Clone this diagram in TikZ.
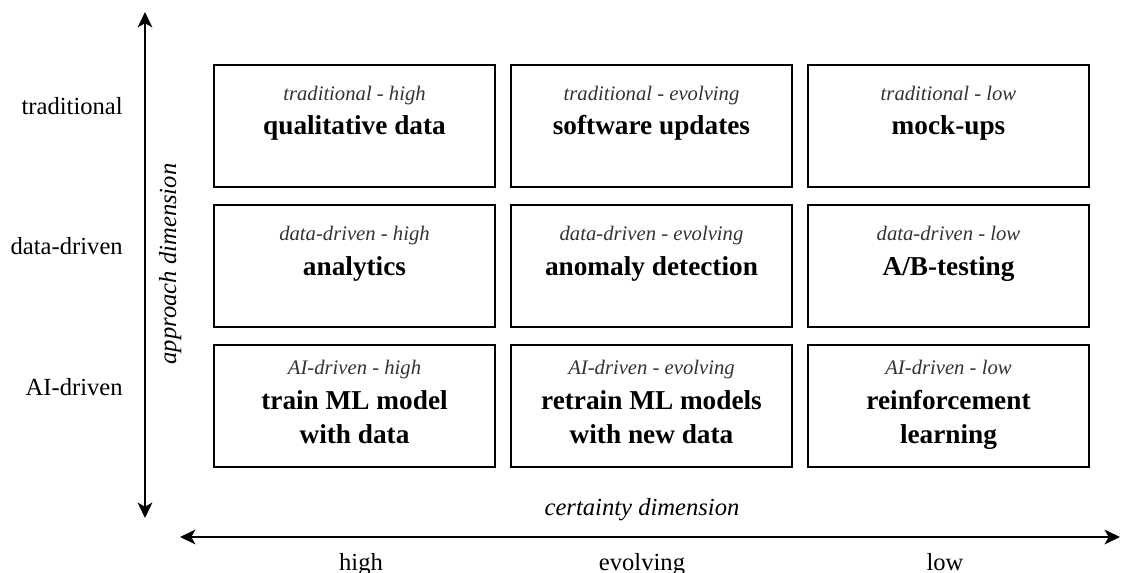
\documentclass[tikz,border=0pt]{standalone}
\usepackage{fontspec}
\setmainfont{Liberation Serif}
\usepackage{tikz}
\usetikzlibrary{arrows.meta}

\tikzset{
  cellbox/.style={draw, line width=1pt, minimum width=7.025cm, minimum height=3.05cm, inner sep=0pt},
  cellhead/.style={anchor=base, text=black!80, font=\fontsize{14.7}{17}\selectfont},
  celltitle/.style={anchor=base, align=center, font=\fontsize{19.4}{23.5}\selectfont\bfseries},
  axislabel/.style={anchor=base, inner sep=0pt, font=\fontsize{17.5}{20}\selectfont},
  axis/.style={line width=1.2pt, {Stealth[length=11pt, width=10.5pt, inset=3pt]}-{Stealth[length=11pt, width=10.5pt, inset=3pt]}}
}

\begin{document}
\begin{tikzpicture}[x=0.025cm, y=-0.025cm]
    \useasboundingbox (0,0) rectangle (1121,573);
    \def\ca{354.5}
    \def\cb{651.5}
    \def\cc{948.5}
    % axes
    \coordinate (vtop) at (145,12);
    \coordinate (vbot) at (145,518);
    \coordinate (hleft) at (180,537);
    \coordinate (hright) at (1120,537);
    \draw[axis] (vtop) -- (vbot);
    \draw[axis] (hleft) -- (hright);
    \node[axislabel, rotate=90] (approach) at (176,264) {\textit{approach dimension}};
    \node[axislabel] (certainty) at (642,515) {\textit{certainty dimension}};
    % row labels
    \node[axislabel, anchor=base east] (rtrad) at (123,114) {traditional};
    \node[axislabel, anchor=base east] (rdata) at (123,254) {data-driven};
    \node[axislabel, anchor=base east] (rai) at (123,395) {AI-driven};
    % column labels
    \node[axislabel] (chigh) at (361,570) {high};
    \node[axislabel] (cevol) at (642,570) {evolving};
    \node[axislabel] (clow) at (945,570) {low};
    % traditional row
    \node[cellbox] (trhigh) at (\ca,126) {};
    \node[cellhead] at (\ca,100) {\textit{traditional} - \textit{high}};
    \node[celltitle] at (\ca,134) {qualitative data};
    \node[cellbox] (trevol) at (\cb,126) {};
    \node[cellhead] at (\cb,100) {\textit{traditional} - \textit{evolving}};
    \node[celltitle] at (\cb,134) {software updates};
    \node[cellbox] (trlow) at (\cc,126) {};
    \node[cellhead] at (\cc,100) {\textit{traditional} - \textit{low}};
    \node[celltitle] at (\cc,134) {mock-ups};
    % data-driven row
    \node[cellbox] (dahigh) at (\ca,266) {};
    \node[cellhead] at (\ca,240) {\textit{data-driven} - \textit{high}};
    \node[celltitle] at (\ca,275) {analytics};
    \node[cellbox] (daevol) at (\cb,266) {};
    \node[cellhead] at (\cb,240) {\textit{data-driven} - \textit{evolving}};
    \node[celltitle] at (\cb,275) {anomaly detection};
    \node[cellbox] (dalow) at (\cc,266) {};
    \node[cellhead] at (\cc,240) {\textit{data-driven} - \textit{low}};
    \node[celltitle] at (\cc,275) {A/B-testing};
    % AI-driven row (base = last line)
    \node[cellbox] (aihigh) at (\ca,406) {};
    \node[cellhead] at (\ca,374) {\textit{AI-driven} - \textit{high}};
    \node[celltitle] at (\ca,443) {train ML model\\with data};
    \node[cellbox] (aievol) at (\cb,406) {};
    \node[cellhead] at (\cb,374) {\textit{AI-driven} - \textit{evolving}};
    \node[celltitle] at (\cb,443) {retrain ML models\\with new data};
    \node[cellbox] (ailow) at (\cc,406) {};
    \node[cellhead] at (\cc,374) {\textit{AI-driven} - \textit{low}};
    \node[celltitle] at (\cc,443) {reinforcement\\learning};
\end{tikzpicture}
\end{document}
